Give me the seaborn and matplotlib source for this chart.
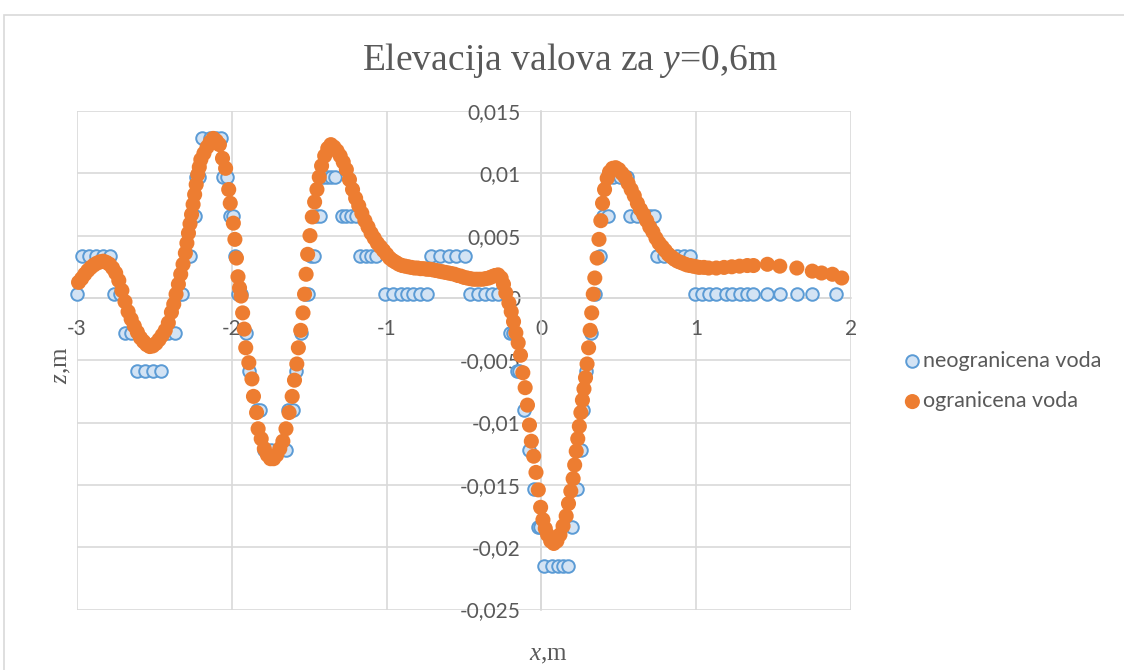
"""Elevacija valova za y=0,6m - neogranicena vs ogranicena voda."""

import matplotlib
matplotlib.use("Agg")
import matplotlib.pyplot as plt
import seaborn as sns
import numpy as np
from matplotlib.patches import Rectangle

# ogranicena voda (orange), x in m, z in mm
org_x = [
    -2.99, -2.97, -2.95, -2.93, -2.91, -2.89, -2.87, -2.85, -2.83, -2.81,
    -2.79, -2.77, -2.75, -2.73, -2.71, -2.69, -2.67, -2.65, -2.63, -2.61,
    -2.59, -2.57, -2.55, -2.53, -2.51, -2.49, -2.47, -2.45, -2.43, -2.41,
    -2.39, -2.375, -2.36, -2.345, -2.33, -2.315, -2.30, -2.29, -2.28, -2.27,
    -2.26, -2.25, -2.24, -2.23, -2.22, -2.21, -2.20, -2.18, -2.16, -2.14,
    -2.12, -2.10, -2.08, -2.06, -2.04, -2.02, -2.01, -1.99, -1.98, -1.97,
    -1.96, -1.95, -1.94, -1.93, -1.92, -1.91, -1.89, -1.87, -1.86, -1.84,
    -1.83, -1.81, -1.79, -1.77, -1.75, -1.73, -1.71, -1.69, -1.67, -1.65,
    -1.63, -1.61, -1.595, -1.58, -1.57, -1.555, -1.54, -1.53, -1.52, -1.51,
    -1.495, -1.48, -1.465, -1.45, -1.435, -1.42, -1.40, -1.38, -1.36, -1.34,
    -1.32, -1.30, -1.28, -1.26, -1.24, -1.22, -1.20, -1.18, -1.16, -1.14,
    -1.12, -1.10, -1.08, -1.06, -1.04, -1.02, -1.00, -0.98, -0.96, -0.94,
    -0.92, -0.90, -0.88, -0.86, -0.84, -0.82, -0.80, -0.78, -0.76, -0.74,
    -0.72, -0.70, -0.68, -0.66, -0.64, -0.62, -0.60, -0.58, -0.56, -0.54,
    -0.52, -0.50, -0.48, -0.46, -0.44, -0.42, -0.40, -0.38, -0.36, -0.34,
    -0.32, -0.30, -0.28, -0.26, -0.245, -0.23, -0.21, -0.195, -0.18, -0.165,
    -0.15, -0.135, -0.12, -0.105, -0.09, -0.077, -0.065, -0.05, -0.035, -0.02,
    -0.005, 0.01, 0.025, 0.04, 0.06, 0.08, 0.10, 0.12, 0.14, 0.16,
    0.175, 0.19, 0.205, 0.215, 0.225, 0.235, 0.245, 0.255, 0.265, 0.275,
    0.285, 0.295, 0.305, 0.315, 0.325, 0.335, 0.345, 0.36, 0.372, 0.384,
    0.395, 0.408, 0.425, 0.44, 0.46, 0.48, 0.50, 0.52, 0.54, 0.56,
    0.58, 0.60, 0.62, 0.64, 0.66, 0.68, 0.70, 0.72, 0.74, 0.76,
    0.78, 0.80, 0.82, 0.84, 0.86, 0.88, 0.90, 0.92, 0.94, 0.96,
    0.98, 1.00, 1.02, 1.05, 1.08, 1.13, 1.18, 1.23, 1.28, 1.33,
    1.37, 1.46, 1.54, 1.65, 1.75, 1.81, 1.88, 1.94,
]
org_z_mm = [
    1.25, 1.55, 1.9, 2.2, 2.45, 2.65, 2.8, 2.9, 2.95, 2.85,
    2.7, 2.4, 2.0, 1.4, 0.6, -0.3, -1.1, -1.7, -2.25, -2.75,
    -3.2, -3.5, -3.75, -3.9, -3.85, -3.65, -3.35, -3.0, -2.6, -2.0,
    -1.15, -0.5, 0.3, 1.1, 1.9, 2.7, 3.6, 4.4, 5.2, 5.95,
    6.7, 7.5, 8.3, 9.1, 9.9, 10.5, 11.1, 11.6, 12.1, 12.5,
    12.8, 12.6, 12.3, 11.2, 10.4, 8.7, 7.6, 6.0, 4.7, 3.2,
    1.7, 0.8, 0.15, -1.2, -2.5, -4.0, -5.2, -6.5, -7.9, -9.2,
    -10.5, -11.3, -12.1, -12.6, -12.9, -12.9, -12.6, -12.1, -11.5, -10.5,
    -9.2, -7.9, -6.6, -5.3, -4.0, -2.6, -1.2, 0.3, 1.9, 3.5,
    5.0, 6.5, 7.7, 8.7, 9.7, 10.6, 11.4, 12.0, 12.3, 12.1,
    11.8, 11.4, 10.9, 10.3, 9.5, 8.7, 8.0, 7.4, 6.8, 6.2,
    5.7, 5.2, 4.8, 4.4, 4.1, 3.8, 3.5, 3.2, 3.0, 2.85,
    2.7, 2.6, 2.55, 2.5, 2.45, 2.4, 2.4, 2.35, 2.35, 2.3,
    2.3, 2.25, 2.2, 2.15, 2.1, 2.05, 2.0, 1.95, 1.9, 1.8,
    1.75, 1.65, 1.6, 1.55, 1.5, 1.5, 1.5, 1.5, 1.55, 1.6,
    1.7, 1.8, 1.85, 1.6, 1.1, 0.4, -0.4, -1.1, -1.9, -2.8,
    -3.6, -4.6, -6.0, -7.2, -8.6, -10.2, -11.5, -12.7, -14.0, -15.4,
    -16.8, -17.8, -18.5, -19.0, -19.5, -19.7, -19.5, -19.0, -18.3, -17.5,
    -16.5, -15.5, -14.5, -13.4, -12.3, -11.3, -10.3, -9.2, -8.2, -7.3,
    -6.4, -5.3, -4.0, -2.6, -1.2, 0.3, 1.6, 3.2, 4.7, 6.2,
    7.6, 8.7, 9.6, 10.1, 10.4, 10.45, 10.3, 10.0, 9.7, 9.2,
    8.7, 8.2, 7.6, 7.1, 6.7, 6.2, 5.7, 5.3, 4.8, 4.4,
    4.1, 3.8, 3.5, 3.3, 3.1, 2.95, 2.85, 2.75, 2.65, 2.6,
    2.55, 2.5, 2.45, 2.45, 2.4, 2.4, 2.45, 2.5, 2.55, 2.6,
    2.6, 2.7, 2.55, 2.4, 2.15, 2.0, 1.9, 1.6,
]

# neogranicena voda (blue), stepped values, x in m, z in mm
neo_x = [
    -3.00, -2.97, -2.92, -2.88, -2.83, -2.79, -2.76, -2.72, -2.69, -2.65,
    -2.61, -2.56, -2.51, -2.46, -2.41, -2.37, -2.34, -2.32, -2.29, -2.27,
    -2.25, -2.24, -2.23, -2.21, -2.19, -2.14, -2.10, -2.07, -2.06, -2.03,
    -2.01, -1.99, -1.98, -1.96, -1.94, -1.91, -1.89, -1.84, -1.82, -1.79,
    -1.745, -1.69, -1.65, -1.64, -1.605, -1.585, -1.55, -1.53, -1.51, -1.49,
    -1.47, -1.455, -1.43, -1.41, -1.385, -1.36, -1.335, -1.29, -1.26, -1.23,
    -1.20, -1.17, -1.13, -1.10, -1.07, -1.01, -0.96, -0.91, -0.87, -0.83,
    -0.785, -0.74, -0.71, -0.655, -0.60, -0.55, -0.495, -0.46, -0.41, -0.365,
    -0.32, -0.28, -0.20, -0.185, -0.155, -0.145, -0.11, -0.08, -0.05, -0.025,
    -0.01, 0.02, 0.07, 0.11, 0.14, 0.17, 0.195, 0.23, 0.255, 0.27,
    0.29, 0.32, 0.345, 0.378, 0.40, 0.43, 0.46, 0.51, 0.55, 0.57,
    0.62, 0.66, 0.70, 0.73, 0.745, 0.79, 0.83, 0.875, 0.92, 0.96,
    0.99, 1.035, 1.08, 1.13, 1.19, 1.23, 1.28, 1.33, 1.37, 1.46,
    1.54, 1.65, 1.75, 1.90,
]
neo_z_mm = [
    0.3, 3.4, 3.4, 3.4, 3.4, 3.4, 0.3, 0.3, -2.8, -2.8,
    -5.9, -5.9, -5.9, -5.9, -2.8, -2.8, 0.3, 0.3, 3.4, 3.4,
    6.6, 6.6, 9.7, 9.7, 12.8, 12.8, 12.8, 12.8, 9.7, 9.7,
    6.6, 6.6, 3.4, 0.3, 0.3, -2.8, -5.9, -9.0, -9.0, -12.2,
    -12.2, -12.2, -12.2, -9.0, -9.0, -5.9, -2.8, 0.3, 0.3, 3.4,
    3.4, 6.6, 6.6, 9.7, 9.7, 9.7, 9.7, 6.6, 6.6, 6.6,
    6.6, 3.4, 3.4, 3.4, 3.4, 0.3, 0.3, 0.3, 0.3, 0.3,
    0.3, 0.3, 3.4, 3.4, 3.4, 3.4, 3.4, 0.3, 0.3, 0.3,
    0.3, 0.3, -2.8, -2.8, -5.9, -5.9, -9.0, -12.2, -15.3, -18.4,
    -18.4, -21.5, -21.5, -21.5, -21.5, -21.5, -18.4, -15.3, -12.2, -9.0,
    -5.9, -2.8, 0.3, 3.4, 6.6, 6.6, 9.7, 9.7, 9.7, 6.6,
    6.6, 6.6, 6.6, 6.6, 3.4, 3.4, 3.4, 3.4, 3.4, 3.4,
    0.3, 0.3, 0.3, 0.3, 0.3, 0.3, 0.3, 0.3, 0.3, 0.3,
    0.3, 0.3, 0.3, 0.3,
]

x_ticks = [-3, -2, -1, 0, 1, 2]
x_labels = ["-3", "-2", "-1", "0", "1", "2"]
y_ticks = [0.015, 0.01, 0.005, 0, -0.005, -0.01, -0.015, -0.02, -0.025]
y_labels = ["0,015", "0,01", "0,005", "0", "-0,005", "-0,01", "-0,015", "-0,02", "-0,025"]

sns.set_theme(style="white")
plt.rcParams["font.family"] = ["Lato", "DejaVu Sans"]
plt.rcParams["mathtext.fontset"] = "custom"
plt.rcParams["mathtext.rm"] = "Liberation Serif"
plt.rcParams["mathtext.it"] = "Liberation Serif:italic"

TEXT = "#595959"
GRID = "#d9d9d9"

fig = plt.figure(figsize=(11.24, 6.70), dpi=100)
ax = fig.add_axes([77 / 1124, 1 - 609.5 / 670, (851 - 77) / 1124, (609.5 - 111) / 670])

sns.scatterplot(x=np.array(neo_x), y=np.array(neo_z_mm) * 1e-3, ax=ax, s=82,
                color="#d3e3f4", edgecolor="#5b9bd5", linewidth=1.4,
                label="neogranicena voda", zorder=3, clip_on=False)
sns.scatterplot(x=np.array(org_x), y=np.array(org_z_mm) * 1e-3, ax=ax, s=118,
                color="#ed7d31", edgecolor="none", linewidth=0,
                label="ogranicena voda", zorder=4, clip_on=False)

ax.set_xlim(-3, 2)
ax.set_ylim(-0.025, 0.015)
ax.set_xticks(x_ticks)
ax.set_xticklabels(x_labels)
ax.set_yticks(y_ticks)
ax.set_yticklabels(y_labels)
ax.grid(True, color=GRID, linewidth=1.2)
ax.set_axisbelow(True)

for side in ["top", "right"]:
    ax.spines[side].set_visible(False)
ax.spines["left"].set_position(("data", 0))
ax.spines["bottom"].set_position(("data", 0))
for side in ["left", "bottom"]:
    ax.spines[side].set_color(GRID)
    ax.spines[side].set_linewidth(1.2)
    ax.spines[side].set_zorder(1)
ax.tick_params(axis="both", length=0, pad=15, labelsize=15, labelcolor=TEXT)

handles, labels = ax.get_legend_handles_labels()
ax.get_legend().remove()
fig.legend(handles, labels, loc="center left", bbox_to_anchor=(893 / 1124, 1 - 381 / 670),
           frameon=False, fontsize=15.5, labelcolor=TEXT, handletextpad=0.0,
           handlelength=1.0, labelspacing=0.95, borderaxespad=0)

fig.text(570 / 1124, 1 - 60 / 670, "Elevacija valova za $y$=0,6m", ha="center", va="center",
         fontsize=27, color=TEXT, family="Liberation Serif")
fig.text(62 / 1124, 1 - 365 / 670, "$z$,m", ha="center", va="center", rotation=90,
         fontsize=18, color=TEXT, family="Liberation Serif")
fig.text(548 / 1124, 1 - 655 / 670, "$x$,m", ha="center", va="center",
         fontsize=18, color=TEXT, family="Liberation Serif")

fig.add_artist(Rectangle((4 / 1124, -0.5), 2.0, 0.5 + 1 - 15 / 670, transform=fig.transFigure,
                         fill=False, edgecolor=GRID, linewidth=1.2))

fig.savefig("out.png", dpi=100)
plt.close(fig)
